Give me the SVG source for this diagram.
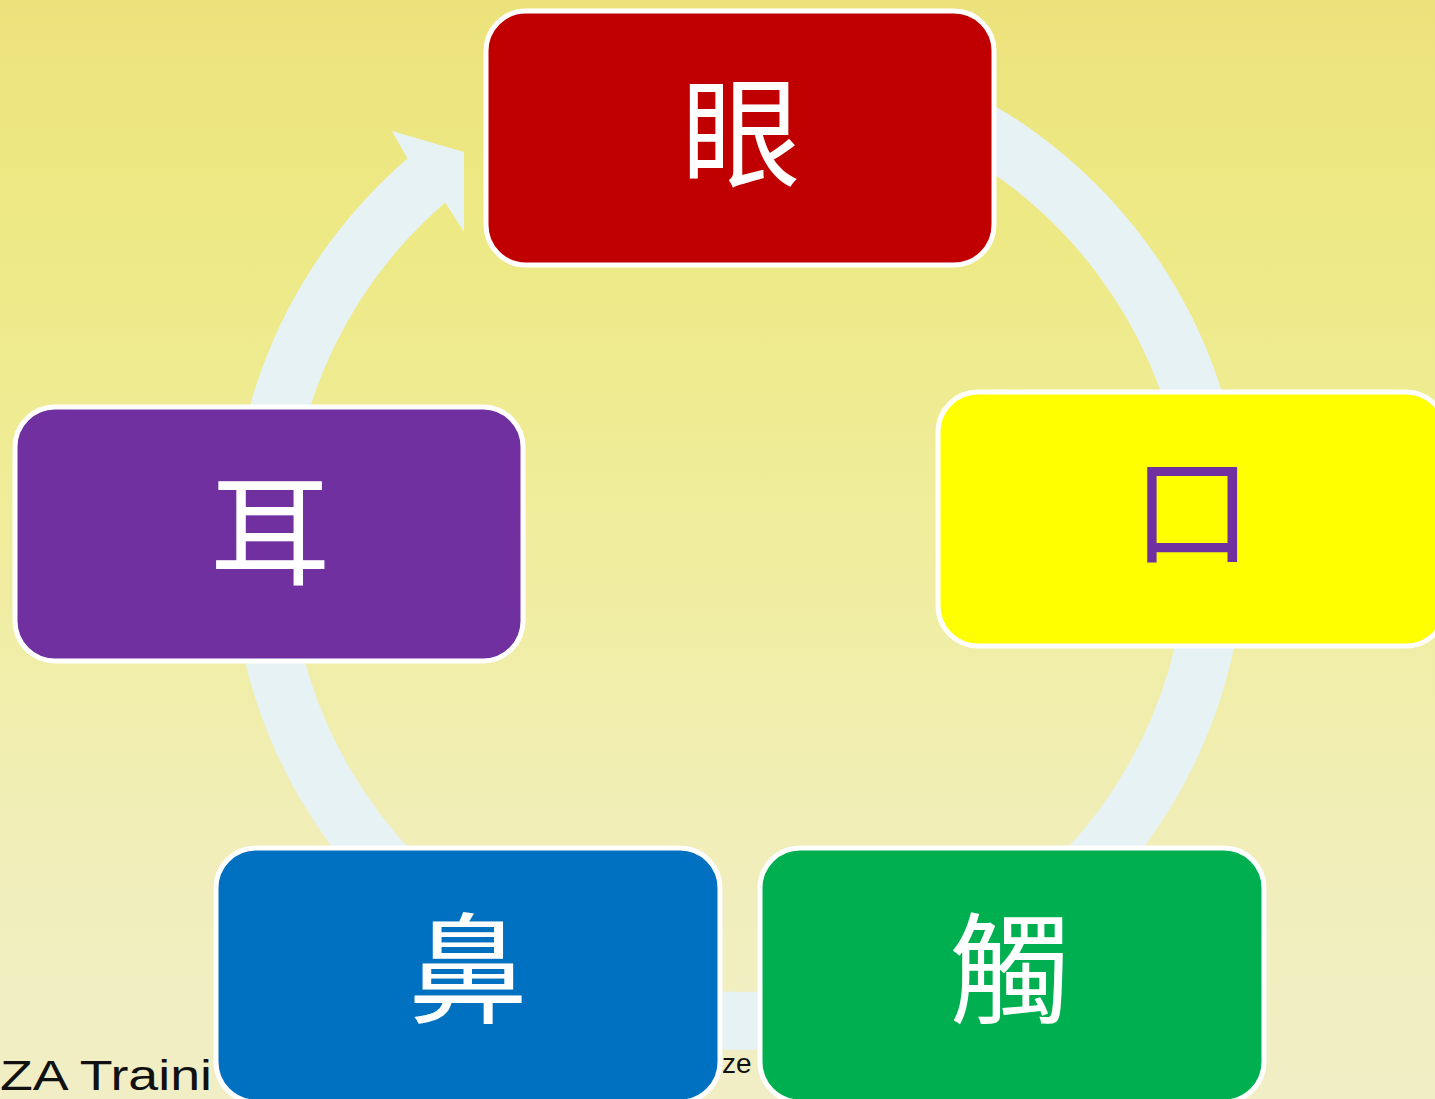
<svg xmlns="http://www.w3.org/2000/svg" width="1435" height="1099" viewBox="0 0 1435 1099">
<defs>
<linearGradient id="bg" x1="0" y1="0" x2="0" y2="1">
<stop offset="0" stop-color="#ECE27C"/>
<stop offset="0.2" stop-color="#EDE984"/>
<stop offset="0.5" stop-color="#F0ED9E"/>
<stop offset="0.8" stop-color="#F1EEBC"/>
<stop offset="1" stop-color="#F1EEC6"/>
</linearGradient>
<style>
.node{stroke:#FFFFFF;stroke-width:5}
.lbl{font-family:"Noto Sans CJK TC","Noto Sans CJK SC",sans-serif;font-size:120px;text-anchor:middle;fill:#FFFFFF}
.ring{fill:#E6F2F4}
.foot{font-family:"Liberation Sans",sans-serif;fill:#111111}
</style>
</defs>
<rect x="0" y="0" width="1435" height="1099" fill="url(#bg)"/>
<g id="footer">
<text class="foot" x="0" y="1090" font-size="42" textLength="212" lengthAdjust="spacingAndGlyphs">ZA Traini</text>
<text class="foot" x="722" y="1073" font-size="28">ze</text>
</g>
<g id="connectors">
<path class="ring" d="M738,36 A507,507 0 1 1 407.4,158.6 L392,131 L464,152 L464,232 L445.2,202.6 A449,449 0 1 0 738,94 Z"/>
</g>
<g id="node-eye">
<rect class="node" x="486" y="11" width="508" height="254" rx="40" fill="#C00000"/>
<text class="lbl" x="741" y="178">眼</text>
</g>
<g id="node-mouth">
<rect class="node" x="938" y="392" width="508" height="254" rx="40" fill="#FFFF00"/>
<text class="lbl" x="1192" y="556" style="fill:#7030A0">口</text>
</g>
<g id="node-ear">
<rect class="node" x="15" y="407" width="508" height="254" rx="40" fill="#7030A0"/>
<text class="lbl" x="270" y="576">耳</text>
</g>
<g id="node-nose">
<rect class="node" x="216" y="848" width="504" height="254" rx="40" fill="#0070C0"/>
<text class="lbl" x="468" y="1014">鼻</text>
</g>
<g id="node-touch">
<rect class="node" x="760" y="848" width="504" height="254" rx="40" fill="#00B050"/>
<text class="lbl" x="1010" y="1014">觸</text>
</g>
</svg>
